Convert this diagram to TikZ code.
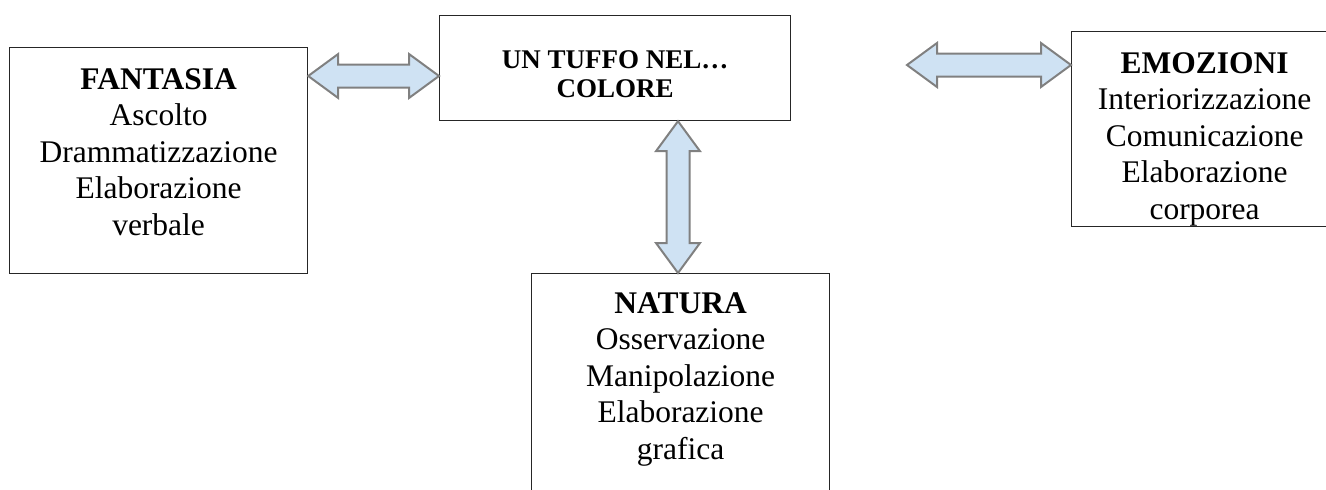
\documentclass[tikz,border=0pt]{standalone}
\usepackage{fontspec}
\setmainfont{Liberation Serif}
\usetikzlibrary{calc,positioning}

\definecolor{arrowfill}{RGB}{207,226,243}
\definecolor{arrowline}{RGB}{128,128,128}

\tikzset{
  box/.style={draw=black!85, line width=1.2pt, anchor=north west, inner sep=0pt},
  boxtext/.style={inner sep=0pt, align=center, font=\fontsize{31.5}{36.5}\selectfont},
  titletext/.style={inner sep=0pt, align=center, font=\fontsize{27}{29.5}\selectfont\bfseries},
  flowarrow/.style={draw=arrowline, fill=arrowfill, line width=2pt, line join=miter},
}

% double block arrow between two points
\newcommand{\blockarrow}[2]{%
  \draw[flowarrow] (#1)
    -- ($(#1)!30pt!(#2)!22pt!90:(#2)$)
    -- ($(#1)!30pt!(#2)!11.5pt!90:(#2)$)
    -- ($(#2)!30pt!(#1)!11.5pt!-90:(#1)$)
    -- ($(#2)!30pt!(#1)!22pt!-90:(#1)$)
    -- (#2)
    -- ($(#2)!30pt!(#1)!22pt!90:(#1)$)
    -- ($(#2)!30pt!(#1)!11.5pt!90:(#1)$)
    -- ($(#1)!30pt!(#2)!11.5pt!-90:(#2)$)
    -- ($(#1)!30pt!(#2)!22pt!-90:(#2)$)
    -- cycle;
}

\begin{document}
\begin{tikzpicture}[x=1pt, y=-1pt]

\clip (0,0) rectangle (1326,490);

% boxes
\node[box, minimum width=298pt, minimum height=226pt] (fantasia) at (9,47) {};
\node[box, minimum width=351pt, minimum height=105pt] (colore) at (439,15) {};
\node[box, minimum width=266pt, minimum height=195pt] (emozioni) at (1071,31) {};
\node[box, minimum width=298pt, minimum height=250pt] (natura) at (531,273) {};

% texts
\node[titletext, below=35pt of colore.north] (coloretxt) {UN TUFFO NEL…\\COLORE};
\node[boxtext, below=21pt of fantasia.north] (fantasiatxt)
  {\textbf{FANTASIA}\\Ascolto\\Drammatizzazione\\Elaborazione\\verbale};
\node[boxtext, below=21pt of emozioni.north] (emozionitxt)
  {\textbf{EMOZIONI}\\Interiorizzazione\\Comunicazione\\Elaborazione\\corporea};
\node[boxtext, below=19pt of natura.north] (naturatxt)
  {\textbf{NATURA}\\Osservazione\\Manipolazione\\Elaborazione\\grafica};

% arrows
\coordinate (lA) at (fantasia.east |- 0,76);
\coordinate (lB) at (colore.west |- 0,76);
\coordinate (rA) at (907,65);
\coordinate (rB) at (emozioni.west |- 0,65);
\coordinate (vA) at (colore.south -| 678,0);
\coordinate (vB) at (natura.north -| 678,0);

\blockarrow{lA}{lB}
\blockarrow{rA}{rB}
\blockarrow{vA}{vB}

\end{tikzpicture}
\end{document}
